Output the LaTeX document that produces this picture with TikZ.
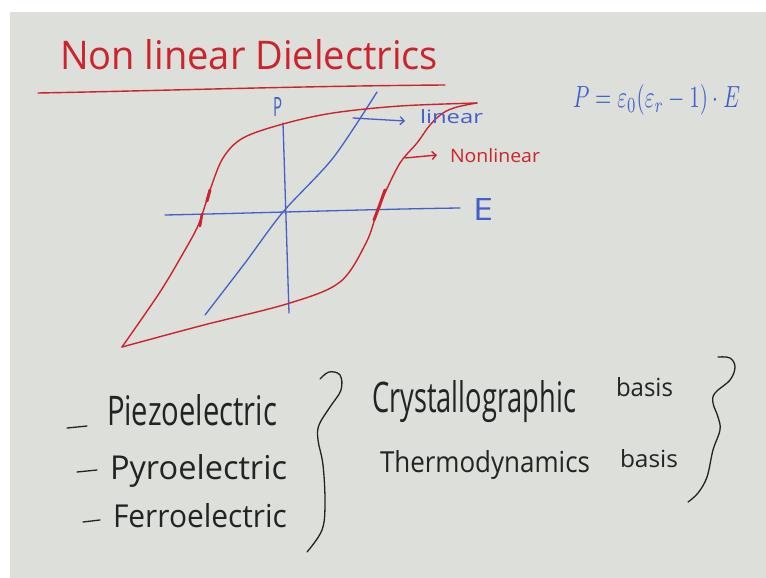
\documentclass[tikz,border=0pt]{standalone}
\usepackage{fontspec}
\setmainfont{Open Sans}
\usetikzlibrary{arrows.meta}
\definecolor{inkred}{RGB}{205,35,45}
\definecolor{inkblue}{RGB}{70,95,200}
\definecolor{ink}{RGB}{35,35,35}
\definecolor{board}{RGB}{220,223,218}
\newcommand{\hw}[3]{\resizebox{#1}{#2}{#3}}
\begin{document}
\begin{tikzpicture}[x=1pt,y=-1pt,
  lbl/.style={inner sep=0pt, outer sep=0pt, anchor=base west},
  redline/.style={draw=inkred, line width=1.4pt, line cap=round, line join=round},
  blueline/.style={draw=inkblue, line width=1.3pt, line cap=round, line join=round},
  blackline/.style={draw=ink, line width=1.3pt, line cap=round, line join=round},
  hand/.style={-{Straight Barb[length=4pt,width=8pt]}}
]
\useasboundingbox (0,0) rectangle (766,578);
\fill[white] (0,0) rectangle (766,578);
\fill[board] (10,12) rectangle (766,578);

% title
\node[lbl, text=inkred] (title) at (60,70) {\hw{378pt}{30pt}{Non linear Dielectrics}};
\coordinate (ulA) at (38,93);
\coordinate (ulB) at (445,85);
\draw[redline] (ulA) .. controls (150,91) and (300,86) .. (ulB);

% equation
\node[lbl, text=inkblue] (eq) at (573,108) {\hw{167pt}{23pt}{$P=\varepsilon_0(\varepsilon_r-1)\cdot E$}};

% axes
\coordinate (eL) at (165,215);
\coordinate (eR) at (460,208);
\draw[blueline] (eL) .. controls (260,213) and (380,209) .. (eR);
\coordinate (pT) at (283,123);
\coordinate (pB) at (289,313);
\draw[blueline] (pT) -- (pB);
\node[lbl, text=inkblue] (plbl) at (273,117) {\hw{9pt}{19pt}{P}};
\node[lbl, text=inkblue] (elbl) at (473,220) {\hw{20pt}{22pt}{E}};

% linear response
\draw[blueline] plot[smooth] coordinates {(205,315) (245,263) (283,212) (333,158) (377,92)};

% hysteresis loop
\coordinate (tipA) at (122,347);
\coordinate (tipB) at (477,103);
\draw[redline] plot[smooth, tension=0.55] coordinates {(122,347) (160,292) (185,250) (197,228) (203,212) (210,190) (223,158) (243,138) (283,124) (333,113) (400,106) (477,103)};
\draw[redline] plot[smooth, tension=0.55] coordinates {(477,103) (457,107) (443,113) (430,125) (417,143) (400,163) (384,195) (377,212) (366,243) (340,282) (290,303) (200,326) (122,347)};
\draw[redline, line width=3pt] (210,190) -- (207,201);
\draw[redline, line width=2.6pt] (202,214) -- (200,226);
\draw[redline, line width=3pt] (385,190) -- (379,207) -- (374,220);

% labels with arrows
\coordinate (la) at (353,118);
\coordinate (lb) at (405,121);
\draw[blueline, hand] (la) -- (lb);
\node[lbl, text=inkblue] (linl) at (420,124) {\hw{63pt}{14pt}{linear}};
\coordinate (na) at (405,158);
\coordinate (nb) at (437,155);
\draw[redline, hand] (na) -- (nb);
\node[lbl, text=inkred] (nonl) at (450,162) {\hw{90pt}{14pt}{Nonlinear}};

% list
\draw[blackline] (67,428) -- (87,426);
\draw[blackline] (77,472) -- (97,470);
\draw[blackline] (83,522) -- (100,520);
\node[lbl, text=ink] (piezo) at (107,425) {\hw{170pt}{31pt}{Piezoelectric}};
\node[lbl, text=ink] (pyro) at (110,479) {\hw{177pt}{25pt}{Pyroelectric}};
\node[lbl, text=ink] (ferro) at (113,527) {\hw{174pt}{24pt}{Ferroelectric}};

\draw[blackline] plot[smooth, tension=0.6] coordinates {(320,379) (329,372) (340,375) (341,390) (330,407) (319,425) (318,440) (323,465) (325,503) (322,530) (307,552)};

\node[lbl, text=ink] (cryst) at (372,412) {\hw{204pt}{32pt}{Crystallographic}};
\node[lbl, text=ink] (basisA) at (616,396) {\hw{57pt}{19pt}{basis}};
\node[lbl, text=ink] (thermo) at (380,472) {\hw{210pt}{22pt}{Thermodynamics}};
\node[lbl, text=ink] (basisB) at (620,467) {\hw{58pt}{18pt}{basis}};

\draw[blackline] plot[smooth, tension=0.6] coordinates {(718,357) (730,358) (735,367) (730,380) (715,393) (713,403) (718,417) (720,430) (713,450) (707,477) (698,493) (688,502)};
\end{tikzpicture}
\end{document}
